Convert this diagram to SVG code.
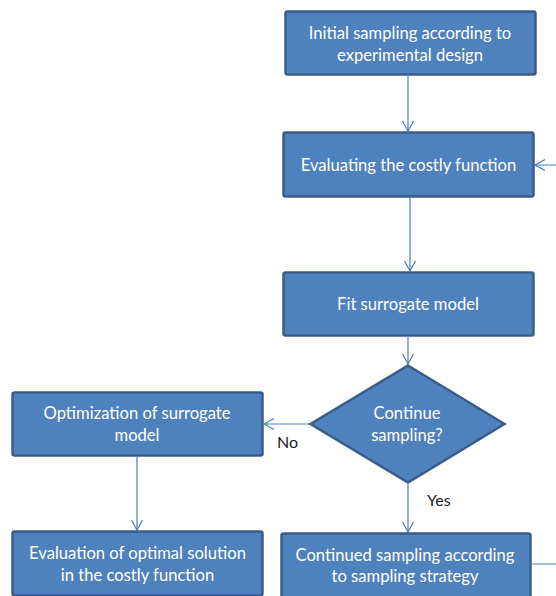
<svg xmlns="http://www.w3.org/2000/svg" width="556" height="596" viewBox="0 0 556 596">
<style>
.box{fill:#4F81BD;stroke:#385D8A;stroke-width:2.5}
.lbl{font-family:Lato,"Open Sans","Liberation Sans",sans-serif;font-size:16.6px;fill:#FFFFFF;text-anchor:middle}
.edge{font-family:Lato,"Open Sans","Liberation Sans",sans-serif;font-size:16px;fill:#1a1a1a}
.con{fill:none;stroke:#4A7EBB;stroke-width:1.2}
</style>
<defs>
<marker id="arr" markerUnits="userSpaceOnUse" markerWidth="12" markerHeight="12" refX="10" refY="5.5" orient="auto" viewBox="0 0 12 11">
<path d="M0,0 L10,5.5 L0,11" fill="none" stroke="#4A7EBB" stroke-width="1.2"/>
</marker>
</defs>
<g id="connectors">
<path class="con" d="M408,76 L408,131" marker-end="url(#arr)"/>
<path class="con" d="M410,198 L410,271" marker-end="url(#arr)"/>
<path class="con" d="M408,337 L408,364" marker-end="url(#arr)"/>
<path class="con" d="M309,424 L264,424" marker-end="url(#arr)"/>
<path class="con" d="M408,484 L408,532" marker-end="url(#arr)"/>
<path class="con" d="M137,457 L137,530" marker-end="url(#arr)"/>
<path class="con" d="M532,564 L562,564 L562,165 L535,165" marker-end="url(#arr)"/>
<text class="edge" x="277" y="448">No</text>
<text class="edge" x="427" y="506">Yes</text>
</g>
<g id="initial">
<rect class="box" x="285.5" y="11.5" width="250" height="63" rx="2"/>
<text class="lbl" x="410" y="38.5">Initial sampling according to</text>
<text class="lbl" x="410" y="60.5">experimental design</text>
</g>
<g id="evaluate">
<rect class="box" x="283.5" y="132.5" width="250" height="64" rx="2"/>
<text class="lbl" x="408.5" y="171">Evaluating the costly function</text>
</g>
<g id="fit">
<rect class="box" x="283.5" y="272.5" width="250" height="63" rx="2"/>
<text class="lbl" x="408" y="309.5">Fit surrogate model</text>
</g>
<g id="decision">
<polygon class="box" points="408,365.5 504.5,424 408,482.5 310.5,424"/>
<text class="lbl" x="407" y="419">Continue</text>
<text class="lbl" x="407" y="441">sampling?</text>
</g>
<g id="optimize">
<rect class="box" x="12.5" y="392.5" width="250" height="63" rx="2"/>
<text class="lbl" x="137" y="419">Optimization of surrogate</text>
<text class="lbl" x="137" y="441">model</text>
</g>
<g id="evaluate-optimal">
<rect class="box" x="12.5" y="531.5" width="250" height="64" rx="2"/>
<text class="lbl" x="137.5" y="559">Evaluation of optimal solution</text>
<text class="lbl" x="137.5" y="581">in the costly function</text>
</g>
<g id="continued">
<rect class="box" x="281.5" y="533.5" width="249" height="64" rx="2"/>
<text class="lbl" x="405" y="561">Continued sampling according</text>
<text class="lbl" x="405" y="582">to sampling strategy</text>
</g>
</svg>
